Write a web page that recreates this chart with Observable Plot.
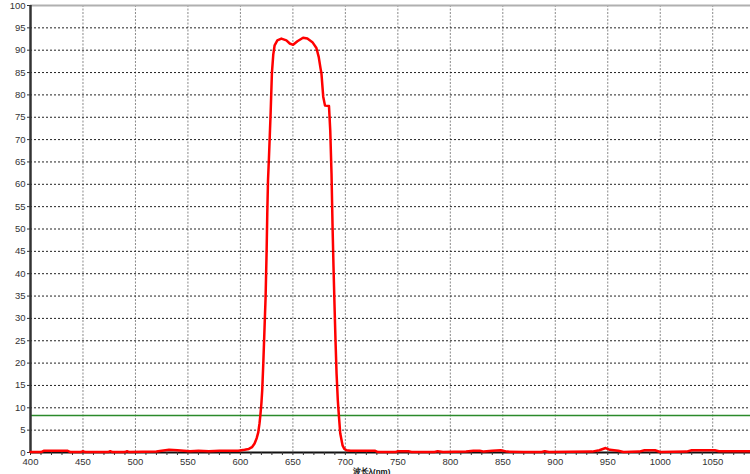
<!DOCTYPE html>
<html><head><meta charset="utf-8">
<script src="https://cdn.jsdelivr.net/npm/d3@7"></script>
<script src="https://cdn.jsdelivr.net/npm/@observablehq/plot@0.6"></script>
<style>body{margin:0;background:#fff;overflow:hidden}</style>
</head><body><div id="chart"></div>
<script>
const wavelength = [400,410,413,425,435,438,448,450,452,474,476,478,490,492,494,520,525,532,540,546,552,560,570,580,590,598,604,608,611,613.5,615.5,617,618.2,619,620,620.8,621.8,623,624,625,625.6,626.3,627.2,628,628.8,630,631.3,632.6,635.2,639,643.8,647,650.2,654.3,659.7,663.8,668.6,672.4,674.6,676.3,677.2,678.9,680.6,684.4,685.6,686.8,687.8,688.7,689.7,690.6,691.6,692.8,693.8,695.1,697.3,699,701.1,705,715,728,731,748,750,760,763,785,788,793,815,822,828,832,840,848,854,870,887,890,894,935,942,948,952,960,965,980,985,995,1000,1025,1030,1052,1056,1070,1086];
const transmittance = [0.1,0.1,0.4,0.4,0.4,0.1,0.1,0.3,0.1,0.1,0.3,0.1,0.1,0.3,0.1,0.2,0.4,0.6,0.5,0.4,0.3,0.4,0.3,0.4,0.4,0.4,0.6,0.8,1.2,2.0,3.2,4.5,6.5,8.3,11,14,19.9,28,34.8,45.3,53.5,60.9,66,71,76,84.8,89,91.1,92.2,92.6,92.2,91.5,91.2,92,92.8,92.6,91.8,90.5,88.5,86,84.8,79.6,77.6,77.5,72,62.4,50.5,41.5,32.6,25.1,17.7,11.7,8.3,4.3,1.6,0.8,0.5,0.4,0.4,0.4,0.1,0.1,0.3,0.3,0.1,0.1,0.3,0.1,0.2,0.4,0.4,0.2,0.4,0.5,0.2,0.1,0.1,0.3,0.1,0.2,0.5,1.0,0.6,0.4,0.1,0.2,0.5,0.5,0.1,0.2,0.5,0.5,0.3,0.3,0.3];
const xTicks = [400,450,500,550,600,650,700,750,800,850,900,950,1000,1050];
const yTicks = [0,5,10,15,20,25,30,35,40,45,50,55,60,65,70,75,80,85,90,95,100];
const xMinorTicks = d3.range(400, 1090, 10);
const threshold = [8.3];
const xLabel = ["波长λ(nm)"];

const data = wavelength.map((w, i) => ({w, t: transmittance[i]}));

const chart = Plot.plot({
  width: 750, height: 474,
  marginLeft: 30, marginRight: 0, marginTop: 5, marginBottom: 22,
  style: {fontFamily: "'Liberation Sans', Arial, sans-serif", fontSize: "9px", background: "#fff", color: "#333", overflow: "visible"},
  x: {domain: [400, 1086]},
  y: {domain: [0, 100]},
  marks: [
    Plot.ruleX(xTicks.slice(1), {stroke: "#8a8a8a", strokeDasharray: "2,1.5", strokeWidth: 1}),
    Plot.ruleY(yTicks.slice(1, -1), {stroke: "#222", strokeDasharray: "2,2", strokeWidth: 1}),
    Plot.ruleY([100], {stroke: "#b0b0b0", strokeWidth: 2}),
    Plot.ruleY(threshold, {stroke: "#2b8a2b", strokeWidth: 1.5}),
    Plot.ruleY([0], {stroke: "#111", strokeWidth: 2}),
    Plot.ruleX([400], {stroke: "#333", strokeWidth: 2.5}),
    Plot.axisX({ticks: xMinorTicks, tickSize: 3, text: null, label: null, stroke: "#333"}),
    Plot.axisX({ticks: xTicks, tickSize: 0, tickPadding: 6, tickFormat: d => String(d), label: null, fill: "#333", fontSize: 9.5}),
    Plot.axisY({ticks: yTicks, tickSize: 3, tickPadding: 2, tickFormat: d => String(d), label: null, fill: "#333", fontSize: 9.5}),
    Plot.lineY(data, {x: "w", y: "t", stroke: "#ff0000", strokeWidth: 2.5, curve: "linear"}),
    Plot.text(xLabel, {frameAnchor: "bottom", lineAnchor: "bottom", dx: -19, dy: 21, fontSize: 8, fontWeight: "bold", fill: "#111"})
  ]
});
document.getElementById("chart").appendChild(chart);
</script>
</body></html>
